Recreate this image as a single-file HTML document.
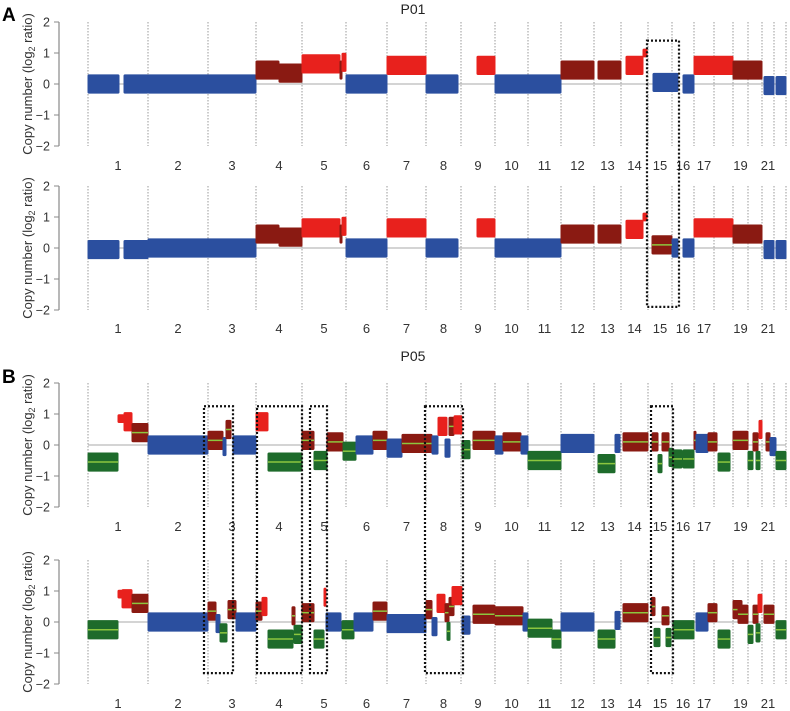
<!DOCTYPE html>
<html><head><meta charset="utf-8">
<style>
html,body{margin:0;padding:0;background:#fff;}
svg{display:block;font-family:"Liberation Sans",Arial,sans-serif;}
</style></head>
<body>
<svg id="chart" width="790" height="711" viewBox="0 0 790 711" xmlns="http://www.w3.org/2000/svg">
<text x="2" y="21" font-size="19" font-weight="bold">A</text>
<text x="2" y="383" font-size="19" font-weight="bold">B</text>
<text x="413" y="14" font-size="14" text-anchor="middle" fill="#222">P01</text>
<text x="413" y="361" font-size="14" text-anchor="middle" fill="#222">P05</text>
</svg>
<script>
const chromLengths=[60,60,48,46,44,41,39,35,34,33,33,33,27,27,24,22,20,19,15,14,12,12];
const chromLabels=["1","2","3","4","5","6","7","8","9","10","11","12","13","14","15","16","17","","19","","21",""];
const yTicks=[2,1,0,-1,-2];
// segments: [start, end, log2 ratio, class]
const segA1=[[0,31,0,"B"],[36,60,0,"B"],[60,168,0,"B"],[168,191,0.45,"D"],[191,214,0.35,"D"],[214,252,0.65,"R"],[252,254,0.45,"D"],[254,258,0.7,"R"],[258,299,0,"B"],[299,338,0.6,"R"],[338,370,0,"B"],[389,407,0.6,"R"],[407,473,0,"B"],[473,506,0.45,"D"],[510,533,0.45,"D"],[538,555,0.6,"R"],[555,559,1.0,"R"],[565,590,0.05,"B"],[595,606,0,"B"],[606,645,0.6,"R"],[645,674,0.45,"D"],[676,686,-0.05,"B"],[688,698,-0.05,"B"]];
const segA2=[[0,31,-0.05,"B"],[36,60,-0.05,"B"],[60,168,0,"B"],[168,191,0.45,"D"],[191,214,0.35,"D"],[214,252,0.65,"R"],[252,254,0.45,"D"],[254,258,0.7,"R"],[258,299,0,"B"],[299,338,0.65,"R"],[338,370,0,"B"],[389,407,0.65,"R"],[407,473,0,"B"],[473,506,0.45,"D"],[510,533,0.45,"D"],[538,555,0.6,"R"],[555,559,1.0,"R"],[564,584,0.1,"D"],[584,590,0,"B"],[595,606,0,"B"],[606,645,0.65,"R"],[645,674,0.45,"D"],[676,686,-0.05,"B"],[688,698,-0.05,"B"]];
const segB1=[[0,30,-0.55,"G"],[30,36,0.85,"R"],[36,44,0.75,"R"],[44,60,0.4,"D"],[60,120,0,"B"],[120,135,0.15,"D"],[135,138,-0.05,"B"],[138,143,0.5,"D"],[145,168,0,"B"],[168,180,0.75,"R"],[180,214,-0.55,"G"],[214,226,0.15,"D"],[226,239,-0.5,"G"],[239,255,0.1,"D"],[255,268,-0.2,"G"],[268,285,0,"B"],[285,299,0.15,"D"],[299,314,-0.1,"B"],[314,344,0.05,"D"],[344,350,0,"B"],[350,359,0.6,"R"],[357,362,-0.1,"B"],[361,366,0.6,"D"],[366,374,0.65,"R"],[374,382,-0.15,"G"],[385,407,0.15,"D"],[407,415,0,"B"],[415,433,0.1,"D"],[433,440,0,"B"],[440,473,-0.5,"G"],[473,506,0.05,"B"],[510,527,-0.6,"G"],[527,532,0.05,"B"],[535,560,0.1,"D"],[564,570,0.1,"D"],[570,574,-0.6,"G"],[574,581,0.1,"D"],[581,585,-0.4,"G"],[585,594,-0.45,"G"],[595,606,-0.45,"G"],[606,608,0.15,"D"],[608,620,0.05,"B"],[620,629,0.1,"D"],[630,642,-0.55,"G"],[645,660,0.15,"D"],[660,665,-0.5,"G"],[665,670,0.1,"D"],[668,672,-0.5,"G"],[671,674,0.5,"R"],[678,682,0.1,"D"],[682,688,-0.05,"B"],[688,698,-0.5,"G"]];
const segB2=[[0,30,-0.25,"G"],[30,36,0.9,"R"],[34,44,0.75,"R"],[44,60,0.6,"D"],[60,120,0,"B"],[120,128,0.35,"D"],[128,132,-0.05,"B"],[132,139,-0.35,"G"],[140,148,0.4,"D"],[148,168,0,"B"],[168,174,0.35,"D"],[174,179,0.5,"R"],[180,205,-0.55,"G"],[204,207,0.2,"D"],[206,214,-0.4,"G"],[214,226,0.3,"D"],[226,236,-0.55,"G"],[236,238,0.8,"R"],[238,253,0,"B"],[254,266,-0.25,"G"],[266,285,0,"B"],[285,299,0.35,"D"],[299,338,-0.05,"B"],[338,344,0.4,"D"],[344,349,-0.15,"B"],[349,357,0.6,"R"],[357,361,0.3,"D"],[359,362,-0.3,"G"],[361,366,0.5,"D"],[364,374,0.85,"R"],[374,382,-0.1,"B"],[385,407,0.25,"D"],[407,435,0.2,"D"],[435,440,0,"B"],[440,464,-0.2,"G"],[464,473,-0.55,"G"],[473,506,0,"B"],[510,527,-0.55,"G"],[527,532,0.05,"B"],[535,560,0.3,"D"],[563,567,0.5,"D"],[566,572,-0.5,"G"],[574,581,0.2,"D"],[578,583,-0.5,"G"],[585,606,-0.25,"G"],[608,620,0,"B"],[620,629,0.3,"D"],[630,642,-0.55,"G"],[645,654,0.4,"D"],[650,660,0.25,"D"],[660,665,-0.4,"G"],[665,670,0.25,"D"],[668,672,-0.35,"G"],[670,674,0.6,"R"],[676,686,0.25,"D"],[688,698,-0.25,"G"]];
// highlight boxes: [genome start, genome end, y top value in upper plot, y bottom value in lower plot]
const boxesA=[[559,591,1.4,-1.9]];
const boxesB=[[116,145,1.25,-1.65],[169,214,1.25,-1.65],[222,239,1.25,-1.65],[337,375,1.25,-1.65],[563,585,1.25,-1.65]];

const NS="http://www.w3.org/2000/svg";
const svg=document.getElementById("chart");
const X0=88,X1=786,UNIT=31;
const total=chromLengths.reduce((a,b)=>a+b,0);
const xs=g=>X0+(g/total)*(X1-X0);
const colors={B:"#2b4f9f",D:"#8a1a12",R:"#e8211d",G:"#1e6b2b"};
function mk(tag,attrs,parent){const e=document.createElementNS(NS,tag);for(const k in attrs)e.setAttribute(k,attrs[k]);(parent||svg).appendChild(e);return e;}

function drawPlot(zeroY,labelY,segs,name,lime){
  const g=mk("g",{});
  
  
  const ys=v=>zeroY-v*UNIT;
  const ax=mk("line",{x1:59,x2:59,y1:ys(2),y2:ys(-2),stroke:"#888","stroke-width":1.2},g);
  
  
  yTicks.forEach(t=>{
    mk("line",{x1:54,x2:59,y1:ys(t),y2:ys(t),stroke:"#888"},g);
    const tl=mk("text",{x:50,y:ys(t)+4.5,"font-size":12.5,"text-anchor":"end",fill:"#333"},g);
    tl.textContent=t<0?"\u2212"+Math.abs(t):String(t);
    
    
  });
  const tt=mk("text",{x:0,y:0,"font-size":13,"text-anchor":"middle",fill:"#333",transform:`translate(32,${zeroY}) rotate(-90)`},g);
  tt.innerHTML='Copy number (log<tspan font-size="9" dy="3">2</tspan><tspan dy="-3"> ratio)</tspan>';
  
  
  let acc=0;
  for(let i=0;i<=chromLengths.length;i++){
    const x=xs(acc);
    const dl=mk("line",{x1:x,x2:x,y1:ys(2),y2:ys(-2),stroke:"#999","stroke-width":1,"stroke-dasharray":"1.5,1.5"},g);
    
    
    if(i<chromLengths.length){
      const cl=mk("text",{x:xs(acc+chromLengths[i]/2),y:labelY+5,"font-size":13,"text-anchor":"middle",fill:"#333"},g);
      cl.textContent=chromLabels[i];
      
      
      acc+=chromLengths[i];
    }
  }
  const zl=mk("line",{x1:X0,x2:X1,y1:zeroY,y2:zeroY,stroke:"#bbb","stroke-width":1.2},g);
  
  
  segs.forEach(s=>{
    const [a,b,v,c]=s;
    const thin=(c==="R"&&(b-a)<=6&&v>=0.85);
    const h=thin?0.14:0.31;
    const r=mk("rect",{x:xs(a)-0.5,y:ys(v+h),width:Math.max(1.5,xs(b)-xs(a)+1),height:2*h*UNIT,fill:colors[c],rx:1.5},g);
    
    
    if(lime(c)){
      const ml=mk("line",{x1:xs(a),x2:xs(b),y1:ys(v),y2:ys(v),stroke:"#8cc63f","stroke-width":1.5},g);
      
      
    }
  });
  return ys;
}
const ysA1=drawPlot(84,165,segA1,"p01-plot-1",c=>false);
const ysA2=drawPlot(248,328,segA2,"p01-plot-2",c=>false);
{const s=segA2.find(q=>q[3]==="D"&&q[0]>=560&&q[0]<584);
 const ml=mk("line",{x1:xs(s[0]),x2:xs(s[1]),y1:ysA2(s[2]),y2:ysA2(s[2]),stroke:"#8cc63f","stroke-width":1.5});
 
 }
const ysB1=drawPlot(445,526,segB1,"p05-plot-1",c=>c==="D"||c==="G");
const ysB2=drawPlot(622,703,segB2,"p05-plot-2",c=>c==="D"||c==="G");

function drawBoxes(boxes,ysTop,ysBot){
  boxes.forEach(b=>{
    const y1=ysTop(b[2]),y2=ysBot(b[3]);
    const r=mk("rect",{x:xs(b[0]),y:y1,width:xs(b[1])-xs(b[0]),height:y2-y1,fill:"none",stroke:"#111","stroke-width":2.2,"stroke-dasharray":"2,2"});
    
    
  });
}
drawBoxes(boxesA,ysA1,ysA2);
drawBoxes(boxesB,ysB1,ysB2);
</script>
</body></html>
